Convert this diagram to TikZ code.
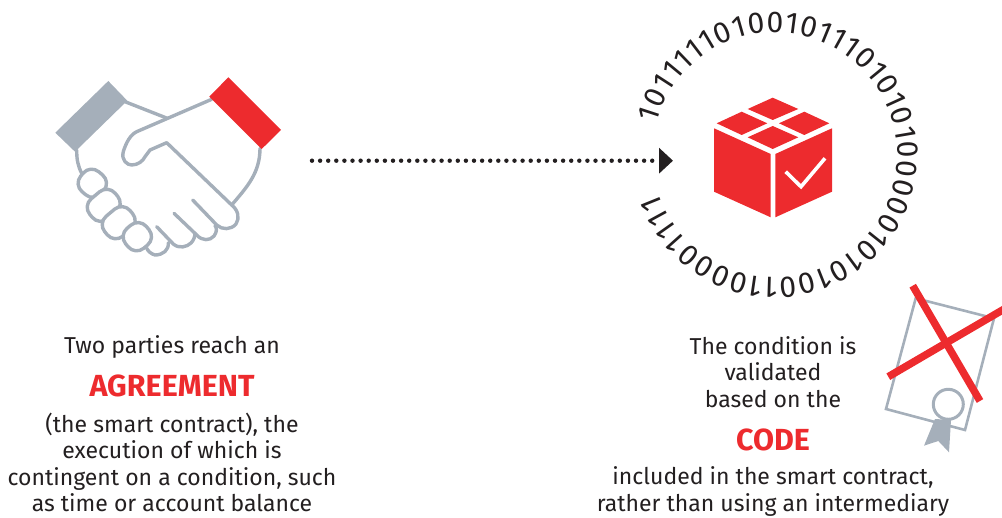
\documentclass[tikz,border=0pt]{standalone}
\usepackage{fontspec}
\setmainfont{Fira Sans}
\usetikzlibrary{arrows.meta,decorations.text}
\definecolor{keyred}{HTML}{ED2B2E}
\definecolor{slate}{HTML}{A5AFBA}
\definecolor{ink}{HTML}{231F20}
\tikzset{
	handline/.style={draw=slate,line width=3.4pt,line join=round,line cap=round},
	fingerpad/.style={handline,fill=white,rounded corners=11pt,minimum width=33pt,minimum height=26pt,inner sep=0pt},
	bodytext/.style={text=ink,align=center,font=\fontsize{23}{26.5}\selectfont},
	keytext/.style={text=keyred,font=\fontsize{30.5}{34}\selectfont\bfseries}
}
\begin{document}
\begin{tikzpicture}[x=1pt,y=-1pt]
	\useasboundingbox (0,0) rectangle (1002,518);
	% handshake
	\draw[handline](125,101.7)--(167.3,118.3);
	\draw[handline](76.7,150)..controls(76.7,160)and(78,166)..(81.7,173.3);
	\draw[handline](260,148.3)..controls(260,173)and(247,187)..(231.7,205);
	\draw[handline](211.7,99.3)--(136.7,131.7)..controls(130,135)and(126,143)..(123.3,151.7)
		..controls(121,160)and(127,165)..(131.7,165)..controls(138,165)and(143,161)..(145,156.7)
		--(150,150)--(166.7,142.7)--(231.7,205)..controls(238,210)and(240,218)..(236,224)
		..controls(231,230)and(222,230)..(216.7,225)--(192.7,200);
	\draw[handline](174,213.3)--(196.7,235)..controls(202,241)and(210,241)..(214,236)
		..controls(217,232)and(217,228)..(215,225.5);
	\draw[handline](156.7,226.7)--(173.3,244)..controls(179,249)and(187,247)..(191,243)
		..controls(194,240)and(195,236)..(195,233.3);
	\draw[handline](168.3,242.7)..controls(169,250)and(163,255)..(155,255)..controls(151,254)and(148,251)..(146.7,248.3);
	\node[fingerpad,rotate=-40,minimum width=27pt] (fingerA) at (92.3,183.3) {};
	\node[fingerpad,rotate=40] (fingerB) at (103.7,205.3) {};
	\node[fingerpad,rotate=40] (fingerC) at (118.7,222.7) {};
	\node[fingerpad,rotate=40,minimum width=27pt] (fingerD) at (137.3,236.7) {};
	\fill[slate](108.3,81)--(127.3,100.7)--(75,151.7)--(55.3,132.7)--cycle;
	\fill[keyred](228.3,77.3)--(281,130)--(261.7,149)--(209.3,96.7)--cycle;
	% dotted arrow
	\coordinate (dealEnd) at (312,160.7);
	\coordinate (codeEnd) at (673,160.7);
	\draw[ink,line width=4.4pt,line cap=round,dash pattern=on 0pt off 8.1pt,-{Triangle[length=14pt,width=25pt]}](dealEnd)--(codeEnd);
	% box
	\fill[keyred](772.7,97.7)--(798.3,109)--(772.7,120)--(747.7,109)--cycle;
	\fill[keyred](741.7,111.7)--(767.3,123.3)--(741.7,135)--(716.7,123.3)--cycle;
	\fill[keyred](804.3,111.7)--(829.3,123.3)--(804.3,135)--(779,123.3)--cycle;
	\fill[keyred](772.7,126)--(798.3,137.3)--(772.7,149)--(747.7,137.3)--cycle;
	\fill[keyred](714,128.3)--(770.7,154)--(770.7,217.3)--(714,191.7)--cycle;
	\fill[keyred](832,128.3)--(775.3,154)--(775.3,217.3)--(832,191.7)--cycle;
	\draw[white,line width=3.6pt](785.7,171.7)--(801,186.7)--(825,158.3);
	% binary ring
	\path[decorate,decoration={text along path,text align={fit to path},
		text={|\fontsize{30}{30}\selectfont\color{ink}|10111110100101110101010000010101001100001111}}]
		(775,155)++(-165:122.5) arc[start angle=-165,end angle=161,radius=122.5];
	% certificate
	\draw[slate,line width=2.6pt](915.7,298.3)--(994,318.3)--(965,430)--(886,409)--cycle;
	\fill[slate](935,419)--(924,445.7)--(938.3,441)--(949,452.3)--(951,420)--cycle;
	\draw[slate,line width=3pt,fill=white](948.3,404.3)circle[radius=15];
	\draw[keyred,line width=7.5pt](912.7,285.7)--(980,401);
	\draw[keyred,line width=7.5pt](888.3,376.7)--(1006,308);
	% labels
	\node[bodytext] (partiesText) at (172,347) {Two parties reach an};
	\node[keytext] (agreementText) at (172,386) {AGREEMENT};
	\node[bodytext] (contractText) at (172,462.5) {(the smart contract), the\\execution of which is\\contingent on a condition, such\\as time or account balance};
	\node[bodytext] (conditionText) at (773,372) {The condition is\\validated\\based on the};
	\node[keytext] (codeText) at (773,440) {CODE};
	\node[bodytext] (includedText) at (773,491.5) {included in the smart contract,\\rather than using an intermediary};
\end{tikzpicture}
\end{document}
